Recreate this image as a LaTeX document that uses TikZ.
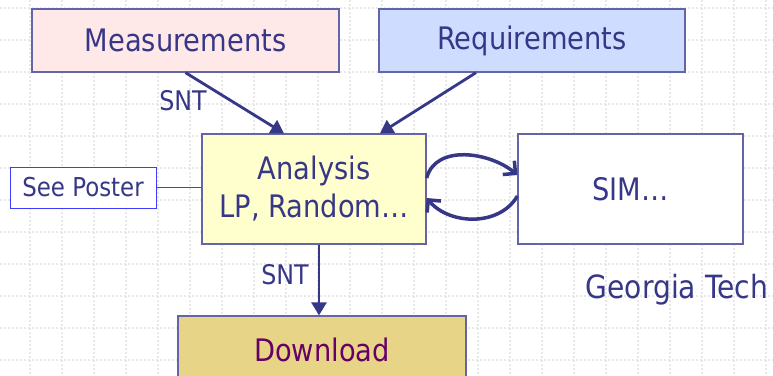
\documentclass[tikz,border=0pt]{standalone}
\usepackage{fontspec}
\setmainfont{DejaVu Sans}[FakeStretch=0.88]
\usetikzlibrary{arrows.meta}

\definecolor{ink}{RGB}{55,55,135}
\definecolor{edge}{RGB}{100,100,168}
\definecolor{pinkfill}{RGB}{255,232,232}
\definecolor{bluefill}{RGB}{206,220,255}
\definecolor{yellowfill}{RGB}{255,255,206}
\definecolor{goldfill}{RGB}{232,212,134}
\definecolor{posterblue}{RGB}{60,60,250}
\definecolor{plum}{RGB}{102,0,102}

\tikzset{
  gridline/.style={black!9, line width=1.1pt, dash pattern=on 2pt off 2pt},
  box/.style={draw=edge, line width=1.3pt, text=ink, inner sep=0pt,
              font=\fontsize{31}{38}\selectfont, align=center},
  flow/.style={ink, line width=2.8pt, -{Triangle[length=13pt,width=15pt]}},
  loop/.style={ink, line width=3.5pt, -{Straight Barb[length=9pt,width=18pt]}},
  lbl/.style={text=ink, font=\fontsize{27}{30}\selectfont}
}

\begin{document}
\begin{tikzpicture}[x=1pt, y=-1pt]
    \useasboundingbox (0,0) rectangle (773,375);
    \clip (0,0) rectangle (773,375);

    % background grid
    \fill[white] (0,0) rectangle (773,375);
    \foreach \x in {30,62,...,766}
        \draw[gridline] (\x,0) -- (\x,375);
    \foreach \y in {8,40,...,372}
        \draw[gridline] (0,\y) -- (773,\y);

    % boxes
    \node[box, fill=pinkfill, minimum width=307pt, minimum height=63pt] (meas) at (185.5,40.5) {Measurements};
    \node[box, fill=bluefill, minimum width=306pt, minimum height=63pt] (req) at (532,40.5) {Requirements};
    \node[box, fill=yellowfill, minimum width=224pt, minimum height=110pt] (ana) at (314,189) {Analysis\\LP, Random…};
    \node[box, fill=white, minimum width=225pt, minimum height=110pt] (sim) at (630.5,189) {SIM…};
    \node[box, fill=goldfill, text=plum, minimum width=288pt, minimum height=68pt] (down) at (322,350) {Download};
    \node[draw=posterblue, line width=1pt, fill=white, text=ink, inner sep=0pt,
          minimum width=146pt, minimum height=41pt, font=\fontsize{26}{30}\selectfont] (poster) at (83,187.5) {See Poster};

    % connectors
    \draw[flow] (meas.south) -- ([xshift=-30pt]ana.north);
    \draw[flow] ([xshift=-56pt]req.south) -- ([xshift=66pt]ana.north);
    \draw[flow] ([xshift=5pt]ana.south) -- ([xshift=5pt]ana.south |- down.north);
    \draw[posterblue, line width=1pt] (poster.east) -- (poster.east -| ana.west);

    \draw[loop] ([yshift=11pt]ana.east) to[out=75, in=140] ([yshift=14pt]sim.west);
    \draw[loop] ([yshift=-7pt]sim.west) to[out=240, in=-50] ([yshift=-9pt]ana.east);

    % labels
    \node[lbl] (snt1) at (183,101) {SNT};
    \node[lbl] (snt2) at (285,275) {SNT};
    \node[text=ink, font=\fontsize{32}{36}\selectfont] (gt) at (677,290) {Georgia Tech};

\end{tikzpicture}
\end{document}
